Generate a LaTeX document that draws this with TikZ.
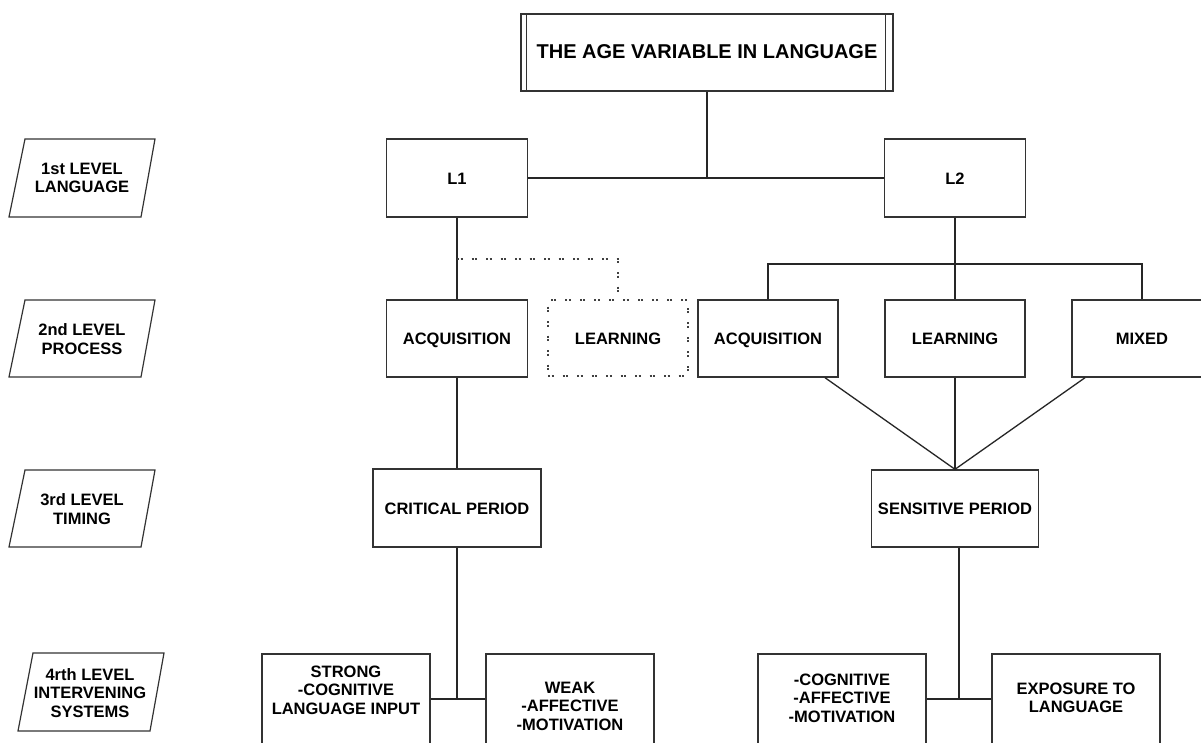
\documentclass[tikz,border=0pt]{standalone}
\usepackage{fontspec}
\setmainfont{Liberation Sans}
\usetikzlibrary{calc}
\begin{document}
\begin{tikzpicture}[x=1pt,y=-1pt,
  box/.style={draw=black!80, line width=1.4pt, rectangle, inner sep=0pt,
    font=\fontsize{16.5}{18.5}\selectfont\bfseries, align=center},
  dotbox/.style={box, draw=black!75, dash pattern=on 2pt off 1.5pt on 2pt off 9pt},
  conn/.style={draw=black!85, line width=1.3pt},
  dotconn/.style={draw=black!75, line width=1.4pt, dash pattern=on 2pt off 1.5pt on 2pt off 9pt},
  lvl/.style={draw=black!80, line width=1.2pt},
  one/.style={text height=12pt, text depth=0pt},
  txt/.style={font=\fontsize{16.5}{18.5}\selectfont\bfseries, align=center, inner sep=0pt}]
\useasboundingbox (0,0) rectangle (1201,742);
\clip (0,0) rectangle (1201,742);
\fill[white] (0,0) rectangle (1201,742);

% level labels
\draw[lvl] (9,217) -- (141,217) -- (155,139) -- (25,139) -- cycle;
\node[txt] (lv1) at (82,178) {1st LEVEL\\LANGUAGE};
\draw[lvl] (9,377) -- (141,377) -- (155,300) -- (25,300) -- cycle;
\node[txt] (lv2) at (82,339) {2nd LEVEL\\PROCESS};
\draw[lvl] (9,547) -- (141,547) -- (155,470) -- (25,470) -- cycle;
\node[txt] (lv3) at (82,509) {3rd LEVEL\\TIMING};
\draw[lvl] (18,731) -- (150,731) -- (164,653) -- (33,653) -- cycle;
\node[txt] (lv4) at (90,693) {4rth LEVEL\\INTERVENING\\SYSTEMS};

% title
\node[box, one, minimum width=372pt, minimum height=77pt, font=\fontsize{20}{24}\selectfont\bfseries] (title) at (707,52.5) {THE AGE VARIABLE IN LANGUAGE};
\draw[box] ([xshift=6pt]title.north west) -- ([xshift=6pt]title.south west);
\draw[box] ([xshift=-8pt]title.north east) -- ([xshift=-8pt]title.south east);

% level 1
\node[box, one, minimum width=141pt, minimum height=78pt] (l1) at (457,178) {L1};
\node[box, one, minimum width=141pt, minimum height=78pt] (l2) at (955,178) {L2};

% level 2
\node[box, one, minimum width=141pt, minimum height=77pt] (acq1) at (457,338.5) {ACQUISITION};
\node[dotbox, one, minimum width=140pt, minimum height=76pt] (learn1) at (618,338) {LEARNING};
\node[box, one, minimum width=140pt, minimum height=77pt] (acq2) at (768,338.5) {ACQUISITION};
\node[box, one, minimum width=140pt, minimum height=77pt] (learn2) at (955,338.5) {LEARNING};
\node[box, one, minimum width=140pt, minimum height=77pt] (mixed) at (1142,338.5) {MIXED};

% level 3
\node[box, one, minimum width=168pt, minimum height=78pt] (crit) at (457,508) {CRITICAL PERIOD};
\node[box, one, minimum width=167pt, minimum height=77pt] (sens) at (955,508.5) {SENSITIVE PERIOD};

% level 4
\node[box, minimum width=168pt, minimum height=110pt] (strong) at (346,709) {};
\node[box, minimum width=168pt, minimum height=110pt] (weak) at (570,709) {};
\node[box, minimum width=168pt, minimum height=110pt] (cog) at (842,709) {};
\node[box, minimum width=168pt, minimum height=110pt] (expo) at (1076,709) {};
\node[txt] (strongt) at (346,690) {STRONG\\-COGNITIVE\\LANGUAGE INPUT};
\node[txt] (weakt) at (570,706) {WEAK\\-AFFECTIVE\\-MOTIVATION};
\node[txt] (cogt) at (842,698) {-COGNITIVE\\-AFFECTIVE\\-MOTIVATION};
\node[txt] (expot) at (1076,698) {EXPOSURE TO\\LANGUAGE};

% connectors
\draw[conn] (title.south) -- (title.south |- l1.east);
\draw[conn] (l1.east) -- (l2.west);
\draw[conn] (l1.south) -- (acq1.north);
\coordinate (d1) at (457,259);
\draw[dotconn] (d1) -| (learn1.north);
\coordinate (h2) at (955,264);
\draw[conn] (l2.south) -- (l2.south |- h2);
\draw[conn] (acq2.north) |- (h2) -| (mixed.north);
\draw[conn] (h2) -- (learn2.north);
\draw[conn] (acq1.south) -- (crit.north);
\draw[conn] ([xshift=57pt]acq2.south) -- (sens.north);
\draw[conn] (learn2.south) -- (sens.north);
\draw[conn] ([xshift=-57pt]mixed.south) -- (sens.north);
\coordinate (j1) at (457,699);
\draw[conn] (crit.south) -- (j1);
\draw[conn] (strong.east |- j1) -- (weak.west |- j1);
\coordinate (j2) at (959,699);
\draw[conn] ([xshift=4pt]sens.south) -- (j2);
\draw[conn] (cog.east |- j2) -- (expo.west |- j2);
\end{tikzpicture}
\end{document}
